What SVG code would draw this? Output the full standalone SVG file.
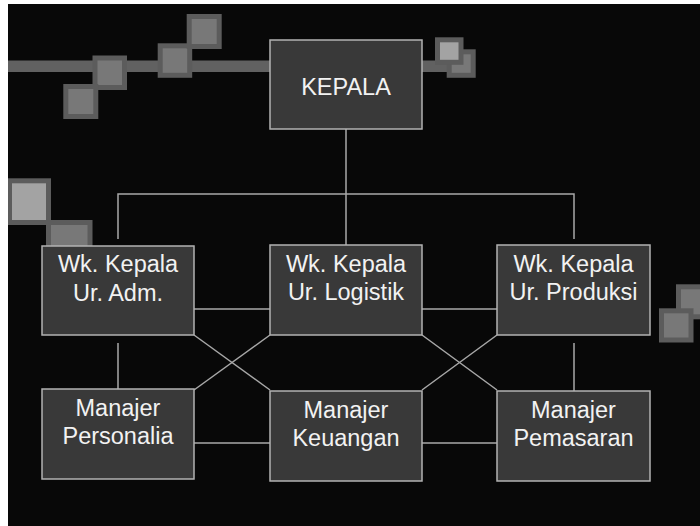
<svg xmlns="http://www.w3.org/2000/svg" width="700" height="526" viewBox="0 0 700 526">
<style>
.box{fill:#393939;stroke:#b2b2b2;stroke-width:1.5}
.lbl{font-family:"Liberation Sans",Arial,sans-serif;font-size:23.5px;fill:#f2f2f2;text-anchor:middle}
.con{stroke:#a8a8a8;stroke-width:1.5;fill:none}
.sq{fill:#787878;stroke:#5c5c5c;stroke-width:5}
.sql{fill:#a3a3a3;stroke:#5c5c5c;stroke-width:5}
.bar{fill:#616161}
</style>
<rect x="0" y="0" width="700" height="526" fill="#080808"/>
<g id="decor">
<rect class="bar" x="8" y="60.5" width="262" height="11.5"/>
<rect class="bar" x="422" y="60.5" width="25" height="11.5"/>
<rect class="sq" x="95" y="58" width="29.5" height="29.5"/>
<rect class="sq" x="65.8" y="86.5" width="30" height="30"/>
<rect class="sq" x="160.2" y="45.8" width="29.5" height="29.5"/>
<rect class="sq" x="189.2" y="16.5" width="30" height="30"/>
<rect class="sq" x="449.2" y="51.8" width="24" height="23.5"/>
<rect class="sql" x="437.5" y="39.8" width="23.5" height="22.5"/>
<rect class="sq" x="48.5" y="222.5" width="41.5" height="41"/>
<rect class="sql" x="9.5" y="180.8" width="39" height="41.7"/>
<rect class="sq" x="678.5" y="286.8" width="30" height="30"/>
<rect class="sq" x="661.5" y="310.8" width="29.5" height="29.2"/>
</g>
<g id="connectors">
<line class="con" x1="346" y1="129" x2="346" y2="245"/>
<polyline class="con" points="118,239 118,194 574,194 574,239"/>
<line class="con" x1="194" y1="309" x2="270" y2="309"/>
<line class="con" x1="422" y1="309" x2="497" y2="309"/>
<line class="con" x1="194" y1="335" x2="270" y2="390"/>
<line class="con" x1="270" y1="335" x2="194" y2="390"/>
<line class="con" x1="422" y1="335" x2="497" y2="390"/>
<line class="con" x1="497" y1="335" x2="422" y2="390"/>
<line class="con" x1="118" y1="343" x2="118" y2="389"/>
<line class="con" x1="574" y1="343" x2="574" y2="391"/>
<line class="con" x1="194" y1="443" x2="270" y2="443"/>
<line class="con" x1="422" y1="443" x2="497" y2="443"/>
</g>
<g id="kepala">
<rect class="box" x="270" y="40" width="152" height="89"/>
<text class="lbl" x="346" y="95">KEPALA</text>
</g>
<g id="wk-adm">
<rect class="box" x="42" y="246" width="152" height="89"/>
<text class="lbl" x="118" y="272">Wk. Kepala</text>
<text class="lbl" x="118" y="300.5">Ur. Adm.</text>
</g>
<g id="wk-logistik">
<rect class="box" x="270" y="245" width="152" height="90"/>
<text class="lbl" x="346" y="271.5">Wk. Kepala</text>
<text class="lbl" x="346" y="299.5">Ur. Logistik</text>
</g>
<g id="wk-produksi">
<rect class="box" x="497" y="245" width="153" height="90"/>
<text class="lbl" x="573.5" y="271.5">Wk. Kepala</text>
<text class="lbl" x="573.5" y="299.5">Ur. Produksi</text>
</g>
<g id="mgr-personalia">
<rect class="box" x="42" y="389" width="152" height="90"/>
<text class="lbl" x="118" y="416">Manajer</text>
<text class="lbl" x="118" y="443.5">Personalia</text>
</g>
<g id="mgr-keuangan">
<rect class="box" x="270" y="391" width="152" height="90"/>
<text class="lbl" x="346" y="418">Manajer</text>
<text class="lbl" x="346" y="445.5">Keuangan</text>
</g>
<g id="mgr-pemasaran">
<rect class="box" x="497" y="391" width="153" height="90"/>
<text class="lbl" x="573.5" y="418">Manajer</text>
<text class="lbl" x="573.5" y="445.5">Pemasaran</text>
</g>
<rect x="0" y="0" width="700" height="4" fill="#ffffff"/>
<rect x="0" y="0" width="8" height="526" fill="#ffffff"/>
</svg>
